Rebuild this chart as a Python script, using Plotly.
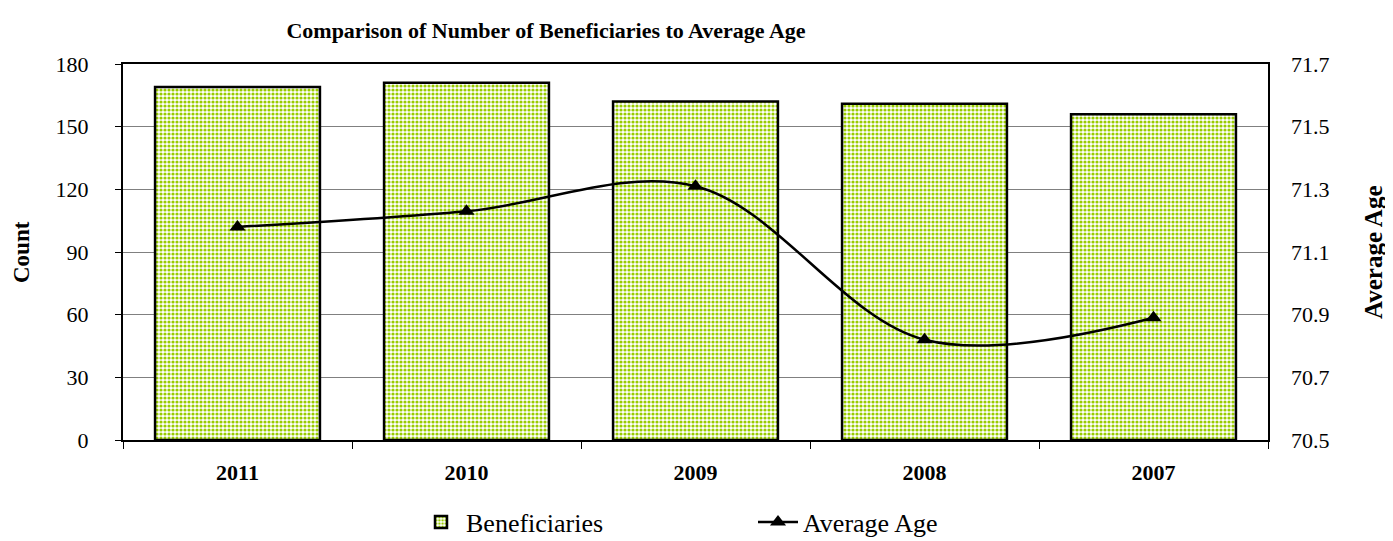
import plotly.graph_objects as go

years = ["2011", "2010", "2009", "2008", "2007"]
beneficiaries = [169, 171, 162, 161, 156]
average_age = [71.18, 71.23, 71.31, 70.82, 70.89]
left_ticks = [0, 30, 60, 90, 120, 150, 180]
right_ticks = [70.5, 70.7, 70.9, 71.1, 71.3, 71.5, 71.7]

FONT = "'Liberation Serif', 'Times New Roman', Times, serif"
OFF = 8  # page body margin
W, H = 1393 - OFF, 541 - OFF
PL, PR = 123, 1268  # plot area edges in window px
PW = PR - PL


def cx(px):
    return (px - OFF) / W


def cy(py):
    return 1 - (py - OFF) / H


fig = go.Figure()
fig.add_trace(go.Bar(
    x=years, y=beneficiaries, name="Beneficiaries",
    marker=dict(color="white", line=dict(color="black", width=2.5),
                pattern=dict(shape=".", fgcolor="#99cc00", bgcolor="white",
                             fgopacity=1, size=4, solidity=0.5, fillmode="overlay")),
))
fig.add_trace(go.Scatter(
    x=years, y=average_age, name="Average Age", yaxis="y2",
    mode="lines+markers", line=dict(color="black", width=2.5, shape="spline", smoothing=1),
    marker=dict(symbol="triangle-up", size=14, color="black"),
))

fig.update_layout(
    width=W, height=H,
    margin=dict(l=PL - OFF, r=125, t=64 - OFF, b=101, autoexpand=False),
    paper_bgcolor="white", plot_bgcolor="white",
    font=dict(family=FONT, size=22, color="black"),
    bargap=0.28,
    title=dict(text="<b>Comparison of Number of Beneficiaries to Average Age</b>",
               x=cx(546), xref="container", xanchor="center",
               y=cy(30), yref="container", yanchor="middle",
               font=dict(family=FONT, size=22, color="black")),
    xaxis=dict(showline=True, linecolor="black", linewidth=2, mirror=True,
               ticks="outside", tickson="boundaries", ticklen=7, tickcolor="black",
               tickwidth=1, tickfont=dict(family=FONT, size=22, weight="bold"),
               showgrid=False, ticklabelstandoff=12, automargin=False),
    yaxis=dict(range=[0, 180], tickvals=left_ticks, showline=True, linecolor="black",
               linewidth=2, mirror=True, ticks="outside", ticklen=6, tickcolor="black",
               showgrid=True, gridcolor="#808080", gridwidth=1, zeroline=False,
               tickfont=dict(family=FONT, size=22),
               ticklabelstandoff=22, automargin=False),
    yaxis2=dict(range=[70.5, 71.7], tickvals=right_ticks, tickformat=".1f",
                overlaying="y", side="right", showgrid=False, zeroline=False,
                showline=False, ticks="", ticklabelstandoff=22, automargin=False,
                tickfont=dict(family=FONT, size=22)),
    legend=dict(orientation="h", x=cx(416), xref="container", xanchor="left",
                y=cy(522), yref="container", yanchor="middle",
                font=dict(family=FONT, size=26), entrywidth=282, itemwidth=40,
                bgcolor="rgba(0,0,0,0)"),
)
fig.add_annotation(text="<b>Count</b>", textangle=-90, showarrow=False,
                   x=(21 - PL) / PW, y=0.5, xref="paper", yref="paper",
                   xanchor="center", yanchor="middle", font=dict(family=FONT, size=23))
fig.add_annotation(text="<b>Average Age</b>", textangle=-90, showarrow=False,
                   x=1 + (1373 - PR) / PW, y=0.5, xref="paper", yref="paper",
                   xanchor="center", yanchor="middle", font=dict(family=FONT, size=25))

fig.write_html("out.html")
